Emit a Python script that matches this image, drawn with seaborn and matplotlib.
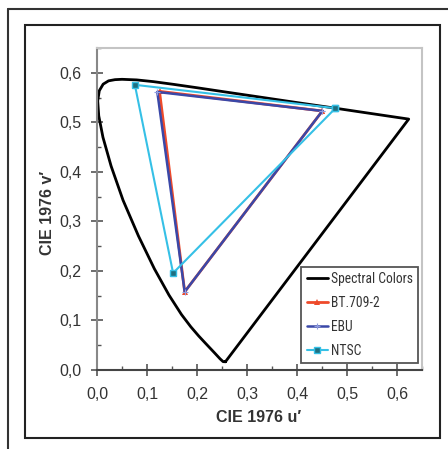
import matplotlib
matplotlib.use("Agg")
import matplotlib.pyplot as plt
import seaborn as sns
from matplotlib.lines import Line2D
from matplotlib.patches import Rectangle
from matplotlib.ticker import MultipleLocator, FuncFormatter

# Spectral locus (CIE 1976 u'v'), closed by the purple line
spectral_u = [0.2568, 0.2522, 0.2461, 0.2347, 0.2161, 0.2033, 0.1877, 0.1690, 0.1441,
              0.1147, 0.0828, 0.0521, 0.0282, 0.0119, 0.0035, 0.0014, 0.0046, 0.0123,
              0.0231, 0.0360, 0.0501, 0.0792, 0.1127, 0.1531, 0.2026, 0.2623, 0.3315,
              0.4035, 0.4692, 0.5203, 0.5565, 0.6005, 0.6234, 0.2568]
spectral_v = [0.0166, 0.0169, 0.0226, 0.0350, 0.0549, 0.0688, 0.0871, 0.1119, 0.1510,
              0.2044, 0.2708, 0.3427, 0.4117, 0.4698, 0.5131, 0.5432, 0.5638, 0.5770,
              0.5837, 0.5861, 0.5868, 0.5856, 0.5821, 0.5766, 0.5694, 0.5604, 0.5501,
              0.5393, 0.5296, 0.5219, 0.5165, 0.5099, 0.5065, 0.0166]

bt709_u = [0.4507, 0.1250, 0.1754, 0.4507]
bt709_v = [0.5229, 0.5625, 0.1579, 0.5229]
ebu_u = [0.4507, 0.1206, 0.1754, 0.4507]
ebu_v = [0.5229, 0.5613, 0.1579, 0.5229]
ntsc_u = [0.4769, 0.0757, 0.1522, 0.4769]
ntsc_v = [0.5285, 0.5757, 0.1957, 0.5285]

labels = ["Spectral Colors", "BT.709-2", "EBU", "NTSC"]
tick_vals = [0.0, 0.1, 0.2, 0.3, 0.4, 0.5, 0.6]

sns.set_theme(style="white")
plt.rcParams['font.family'] = ['Liberation Sans', 'DejaVu Sans']

W, H = 448, 449
fig = plt.figure(figsize=(W / 100, H / 100), dpi=100)
ax = fig.add_axes([97 / W, (H - 370) / H, (422 - 97) / W, (370 - 48) / H])

c_red = "#ee4a2a"
c_blue = "#3a48a8"
c_cyan = "#35c0e6"

sns.lineplot(x=spectral_u, y=spectral_v, sort=False, estimator=None, ax=ax,
             color="black", lw=2.0)
sns.lineplot(x=bt709_u, y=bt709_v, sort=False, estimator=None, ax=ax,
             color=c_red, lw=2.0, marker="^", markersize=5, markeredgewidth=0)
sns.lineplot(x=ebu_u, y=ebu_v, sort=False, estimator=None, ax=ax,
             color=c_blue, lw=1.8, marker="+", markersize=4, markeredgecolor="#8f9ce0",
             markeredgewidth=0.8)
sns.lineplot(x=ntsc_u, y=ntsc_v, sort=False, estimator=None, ax=ax,
             color=c_cyan, lw=1.5, marker="s", markersize=4.5, markerfacecolor="#1f6f80",
             markeredgecolor=c_cyan, markeredgewidth=1.0)

ax.set_xlim(0, 0.65)
ax.set_ylim(0, 0.65)
ax.set_xticks(tick_vals)
ax.set_yticks(tick_vals)
ax.xaxis.set_minor_locator(MultipleLocator(0.05))
ax.yaxis.set_minor_locator(MultipleLocator(0.05))
fmt = FuncFormatter(lambda v, p: f"{v:.1f}".replace(".", ","))
ax.xaxis.set_major_formatter(fmt)
ax.yaxis.set_major_formatter(fmt)
ax.tick_params(axis="both", which="major", direction="inout", length=9, width=1.2,
               color="#555555", labelsize=11.5, labelcolor="#333333",
               bottom=True, left=True)
ax.tick_params(axis="both", which="minor", direction="in", length=3, width=1.0,
               color="#555555", bottom=True, left=True)
ax.tick_params(axis="x", which="major", pad=7.5)
ax.tick_params(axis="y", which="major", pad=6.5)

ax.spines["left"].set_color("#888888")
ax.spines["left"].set_linewidth(1.5)
ax.spines["bottom"].set_color("#444444")
ax.spines["bottom"].set_linewidth(1.5)
for side in ["top", "right"]:
    ax.spines[side].set_color("#c4c4c4")
    ax.spines[side].set_linewidth(1.5)

ax.set_xlabel("CIE 1976 u′", fontsize=11.5, fontweight="bold", color="#333333")
ax.set_ylabel("CIE 1976 v′", fontsize=11.5, fontweight="bold", color="#333333")
ax.xaxis.set_label_coords(0.4985, -0.146)
ax.xaxis.label.set_va("center")
ax.yaxis.set_label_coords(-0.151, 0.4876)
ax.yaxis.label.set_va("center")

handles = [
    Line2D([], [], color="black", lw=2.0),
    Line2D([], [], color=c_red, lw=2.0, marker="^", markersize=5, markeredgewidth=0),
    Line2D([], [], color=c_blue, lw=1.8, marker="+", markersize=4,
           markeredgecolor="#8f9ce0", markeredgewidth=0.8),
    Line2D([], [], color=c_cyan, lw=1.5, marker="s", markersize=4.5,
           markerfacecolor="#1f6f80", markeredgecolor=c_cyan, markeredgewidth=1.0),
]
leg = ax.legend(handles, labels, loc="lower right",
                bbox_to_anchor=((418 - 97) / 325, (370 - 363) / 322),
                borderaxespad=0, fancybox=False, framealpha=1,
                edgecolor="#555555", handlelength=1.55, handletextpad=0.2,
                labelspacing=0.72, borderpad=0.4,
                prop={"family": ["Roboto Condensed", "DejaVu Sans"], "size": 9.8})
leg._legend_box.sep = 2
leg.get_frame().set_linewidth(1.3)
for t in leg.get_texts():
    t.set_color("#333333")

# frames
fig.add_artist(Rectangle((25 / W, (H - 438) / H), (440 - 25) / W, (438 - 25) / H,
                         transform=fig.transFigure, fill=False, ec="#222222", lw=1.5))
fig.add_artist(Line2D([8 / W, 8 / W], [0, (H - 9) / H], transform=fig.transFigure,
                      color="#333333", lw=1.5))
fig.add_artist(Line2D([8 / W, 1], [(H - 9) / H, (H - 9) / H], transform=fig.transFigure,
                      color="#333333", lw=1.5))

fig.savefig("out.png", dpi=100)
